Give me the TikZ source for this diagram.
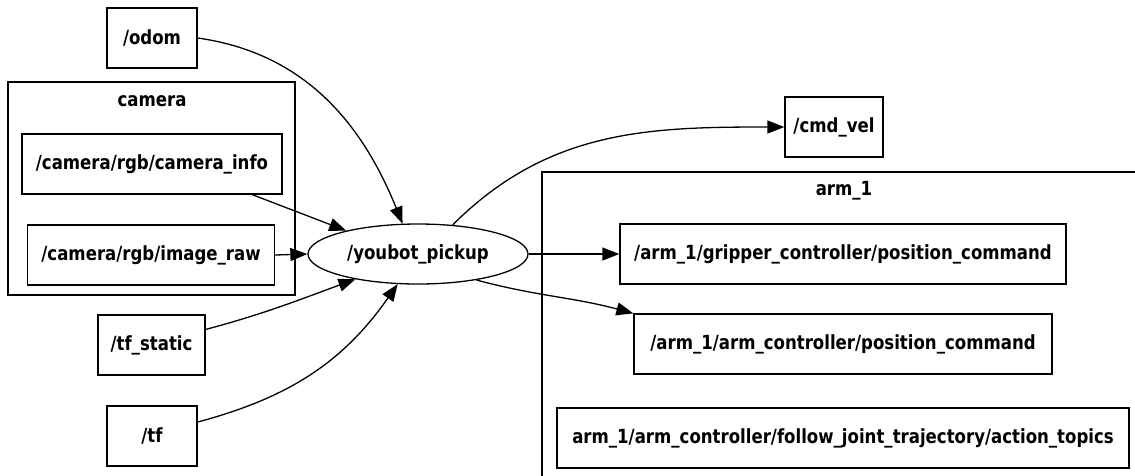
\documentclass[tikz,border=0pt]{standalone}
\usepackage{fontspec}
\setmainfont{DejaVu Sans}
\newfontfamily\lblfam{DejaVu Sans}[FakeStretch=0.85]
\usetikzlibrary{shapes.geometric,arrows.meta}
\tikzset{
  lblfont/.style={font=\lblfam\bfseries\fontsize{19.5}{21}\selectfont},
  topic/.style={draw, line width=1.3pt, minimum height=60pt, inner sep=0pt, lblfont},
  nodeell/.style={draw, ellipse, line width=1.3pt, minimum width=220pt, minimum height=60pt, inner sep=0pt, lblfont},
  cluster/.style={draw, line width=1.3pt},
  clabel/.style={lblfont, inner sep=0pt},
  conn/.style={line width=1.3pt, -{Triangle[length=17pt,width=13pt]}}
}
\begin{document}
\begin{tikzpicture}[x=1pt,y=-1pt]
\useasboundingbox (0,0) rectangle (1135,475);
\begin{scope}
\clip (0,0) rectangle (1135,475);
% clusters
\draw[cluster] (8,82) rectangle (295,295);
\node[clabel] (camlbl) at (152,101) {camera};
\draw[cluster] (542,172) rectangle (1146,500);
\node[clabel] (armlbl) at (844,191) {arm\_1};
\end{scope}
% nodes
\node[topic, minimum width=90pt] (odom) at (152,38) {/odom};
\node[topic, minimum width=260pt] (ci) at (152,164) {/camera/rgb/camera\_info};
\node[topic, minimum width=247pt] (ir) at (151,255) {/camera/rgb/image\_raw};
\node[topic, minimum width=107pt] (ts) at (151.5,345) {/tf\_static};
\node[topic, minimum width=90pt] (tf) at (152,436) {/tf};
\node[nodeell] (yp) at (418,254) {/youbot\_pickup};
\node[topic, minimum width=98pt] (cmd) at (834,127) {/cmd\_vel};
\node[topic, minimum width=446pt] (gp) at (843,254) {/arm\_1/gripper\_controller/position\_command};
\node[topic, minimum width=418pt] (ac) at (843,344) {/arm\_1/arm\_controller/position\_command};
\node[topic, minimum width=572pt] (at) at (843,438) {arm\_1/arm\_controller/follow\_joint\_trajectory/action\_topics};
% connectors
\draw[conn] (odom.east) to[out=-8,in=112] (yp.117);
\draw[conn] (ci.-17) -- (yp.162);
\draw[conn] (ir.east) -- (yp.west);
\draw[conn] (ts.16) to[out=15,in=200] (yp.202);
\draw[conn] (tf.17) to[out=15,in=235] (yp.236);
\draw[conn] (yp.40) to[out=45,in=180] (cmd.west);
\draw[conn] (yp.east) -- (gp.west);
\draw[conn] (yp.336) to[out=-15,in=165] (ac.north west);
\end{tikzpicture}
\end{document}
